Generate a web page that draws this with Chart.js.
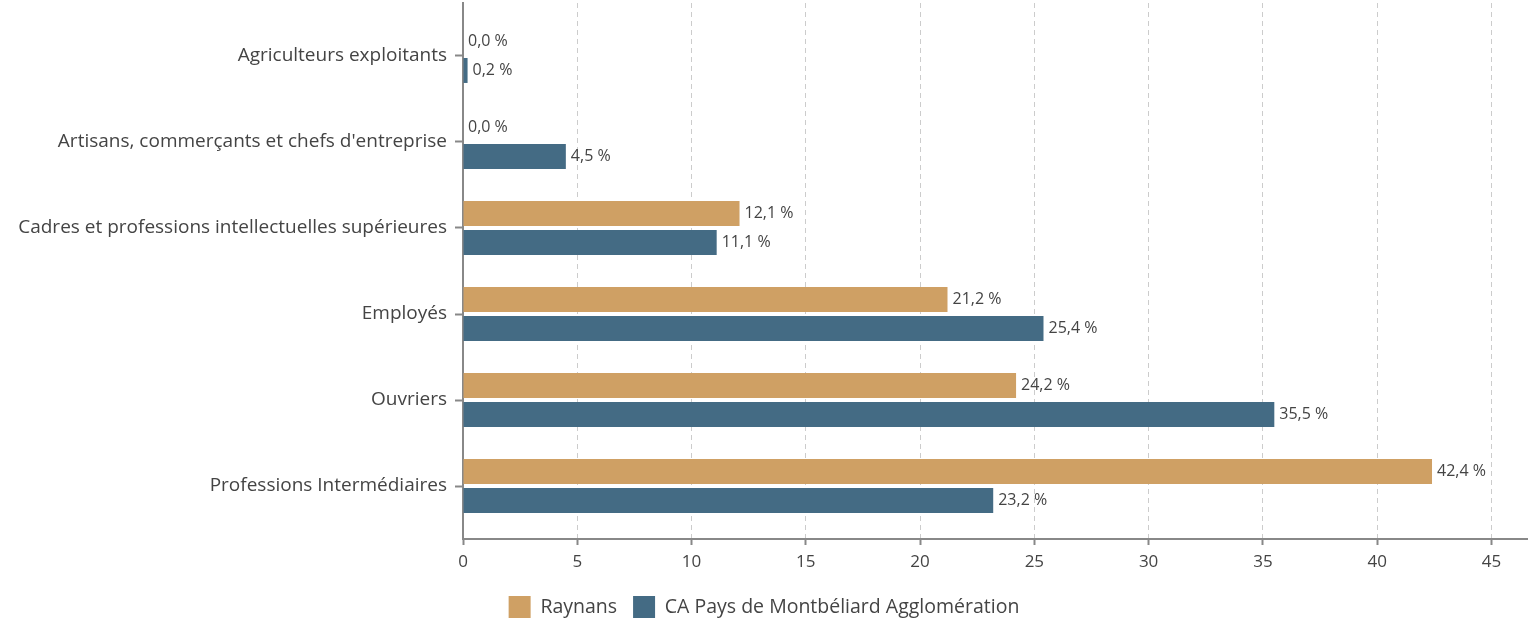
<!DOCTYPE html>
<html>
<head>
<meta charset="utf-8">
<script src="https://cdn.jsdelivr.net/npm/chart.js@4"></script>
<style>
  body { margin: 0; background: #fff; }
  #wrap { width: 1528px; height: 628px; }
</style>
</head>
<body>
<div id="wrap"><canvas id="csp"></canvas></div>
<script>
const categories = [
    'Agriculteurs exploitants',
    "Artisans, commerçants et chefs d'entreprise",
    'Cadres et professions intellectuelles supérieures',
    'Employés',
    'Ouvriers',
    'Professions Intermédiaires'
];
const raynans = [0.0, 0.0, 12.1, 21.2, 24.2, 42.4];
const agglo = [0.2, 4.5, 11.1, 25.4, 35.5, 23.2];
const xTicks = [0, 5, 10, 15, 20, 25, 30, 35, 40, 45];

const fontFamily = '"Open Sans", Lato, sans-serif';

function toPoints(values) {
    return values.map((v, i) => ({ x: v, y: i }));
}

// draws "12,1 %" after the end of each bar
const valueLabels = {
    id: 'valueLabels',
    afterDatasetsDraw(chart) {
        const ctx = chart.ctx;
        ctx.save();
        ctx.font = '16px ' + fontFamily;
        ctx.fillStyle = '#444';
        ctx.textBaseline = 'middle';
        ctx.textAlign = 'left';
        chart.data.datasets.forEach((ds, di) => {
            chart.getDatasetMeta(di).data.forEach((bar, i) => {
                const txt = ds.data[i].x.toFixed(1).replace('.', ',') + ' %';
                ctx.fillText(txt, bar.x + 5, bar.y);
            });
        });
        ctx.restore();
    }
};

const ctx = document.getElementById('csp').getContext('2d');
new Chart(ctx, {
    type: 'bar',
    data: {
        datasets: [{
            label: 'Raynans',
            data: toPoints(raynans),
            backgroundColor: '#CFA064',
            borderWidth: 0
        }, {
            label: 'CA Pays de Montbéliard Agglomération',
            data: toPoints(agglo),
            backgroundColor: '#446B84',
            borderWidth: 0
        }]
    },
    options: {
        indexAxis: 'y',
        responsive: true,
        maintainAspectRatio: false,
        animation: false,
        categoryPercentage: 0.674,
        barPercentage: 0.862,
        layout: { padding: { top: 3, right: 0, left: 0, bottom: 0 } },
        plugins: {
            legend: {
                position: 'bottom',
                labels: {
                    boxWidth: 22,
                    boxHeight: 22,
                    padding: 16,
                    color: '#444',
                    font: { family: fontFamily, size: 19.5 }
                }
            },
            tooltip: { enabled: false }
        },
        scales: {
            x: {
                type: 'linear',
                min: 0,
                max: 46.6,
                afterBuildTicks: (scale) => {
                    scale.ticks = xTicks.map(v => ({ value: v }));
                },
                afterFit: (scale) => { scale.height = 41; },
                ticks: {
                    color: '#444',
                    padding: 7,
                    font: { family: fontFamily, size: 17 }
                },
                grid: {
                    color: '#cccccc',
                    lineWidth: 1,
                    tickLength: 6,
                    tickColor: '#888',
                    tickWidth: 2
                },
                border: { color: '#888', width: 2, dash: [5, 4] }
            },
            y: {
                type: 'linear',
                reverse: true,
                offset: false,
                min: -0.616,
                max: 5.616,
                afterBuildTicks: (scale) => {
                    scale.ticks = categories.map((c, i) => ({ value: i }));
                },
                afterFit: (scale) => {
                    scale.width = 463;
                    scale.paddingTop = 0;
                    scale.paddingBottom = 0;
                },
                ticks: {
                    color: '#444',
                    padding: 8,
                    font: { family: fontFamily, size: 19 },
                    callback: (v) => categories[v]
                },
                grid: {
                    offset: false,
                    drawOnChartArea: false,
                    tickLength: 8,
                    tickColor: '#888',
                    tickWidth: 2
                },
                border: { color: '#888', width: 2 }
            }
        }
    },
    plugins: [valueLabels]
});
</script>
</body>
</html>
